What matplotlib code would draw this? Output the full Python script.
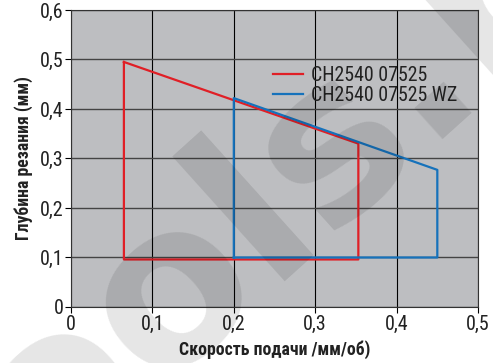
import matplotlib
matplotlib.use("Agg")
import matplotlib.pyplot as plt
from matplotlib.ticker import FuncFormatter

# feed (mm/rev) vs depth of cut (mm) working areas
red_x = [0.065, 0.065, 0.353, 0.353, 0.065]
red_y = [0.495, 0.096, 0.096, 0.330, 0.495]
blue_x = [0.2, 0.2, 0.45, 0.45, 0.2]
blue_y = [0.1, 0.422, 0.277, 0.1, 0.1]
labels = ["CH2540 07525", "CH2540 07525 WZ"]
xticks = [0, 0.1, 0.2, 0.3, 0.4, 0.5]
yticks = [0, 0.1, 0.2, 0.3, 0.4, 0.5, 0.6]

plt.rcParams['font.family'] = ['Roboto Condensed', 'DejaVu Sans']

fig = plt.figure(figsize=(4.93, 3.63), dpi=100)
ax = fig.add_axes([0.144, 0.1543, 0.8256, 0.8182])
ax.set_facecolor('#bdbec1')

ax.plot(red_x, red_y, color='#e01f26', lw=1.6, label=labels[0], zorder=3)
ax.plot(blue_x, blue_y, color='#1672bb', lw=1.6, label=labels[1], zorder=3)

ax.set_xlim(0, 0.5)
ax.set_ylim(0, 0.6)
ax.set_xticks(xticks)
ax.set_yticks(yticks)
fmt = FuncFormatter(lambda v, p: ('%g' % round(v, 2)).replace('.', ','))
ax.xaxis.set_major_formatter(fmt)
ax.yaxis.set_major_formatter(fmt)
ax.tick_params(labelsize=14.5, length=4, width=0.8, color='black', pad=1.5, labelcolor='#222222')
ax.xaxis.grid(True, color='black', lw=0.8)
ax.yaxis.grid(True, color='#444444', lw=1.0)
ax.set_axisbelow(True)
for s in ax.spines.values():
    s.set_linewidth(0.8)
    s.set_color('#333333')

ax.set_xlabel('Скорость подачи /мм/об)', fontsize=12.8, fontweight='bold', labelpad=5, color='#222222')
ax.set_ylabel('Глубина резания (мм)', fontsize=12.8, fontweight='bold', labelpad=5, color='#222222')

ax.legend(loc='center left', bbox_to_anchor=(0.496, 0.747), frameon=False,
          fontsize=14.3, handlelength=1.5, handletextpad=0.4, labelspacing=0.05,
          borderpad=0, borderaxespad=0, labelcolor='#222222')

# faint watermark
fig.text(-0.07, -0.56, 'tools.ru', fontsize=160, fontweight='bold', family='DejaVu Sans',
         color='black', alpha=0.1, rotation=42, rotation_mode='anchor',
         ha='left', va='baseline', zorder=10)

fig.savefig('out.png', dpi=100)
